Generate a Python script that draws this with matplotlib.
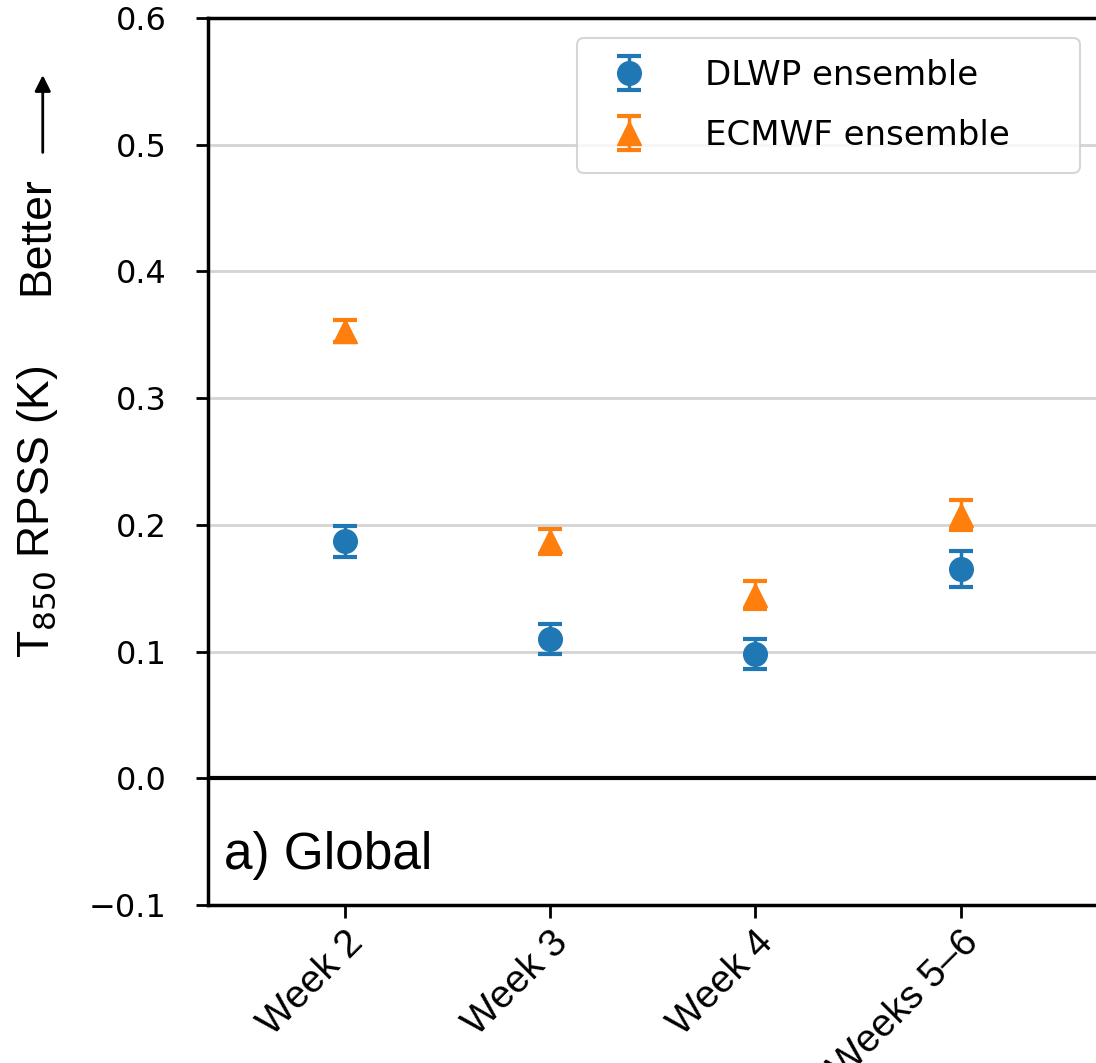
import matplotlib
matplotlib.use("Agg")
from matplotlib import pyplot as plt
from matplotlib.patches import FancyArrowPatch
import numpy as np

weeks = ["Week 2", "Week 3", "Week 4", "Weeks 5\u20136"]
dlwp_rpss = [0.187, 0.110, 0.098, 0.165]
dlwp_err = [0.012, 0.012, 0.012, 0.014]
ecmwf_rpss = [0.353, 0.187, 0.145, 0.208]
ecmwf_err = [0.009, 0.010, 0.011, 0.012]

blue = "#1f77b4"
orange = "#ff7f0e"

fig = plt.figure(figsize=(10.96, 10.63), dpi=100)
ax = fig.add_axes([0.19, 0.1486, 0.81, 0.8345])

x = np.arange(len(weeks))
ax.errorbar(x, dlwp_rpss, yerr=dlwp_err, fmt="o", color=blue, ms=17,
            capsize=8.5, capthick=3, elinewidth=2.5, label="DLWP ensemble", zorder=3)
ax.errorbar(x, ecmwf_rpss, yerr=ecmwf_err, fmt="^", color=orange, ms=17,
            capsize=8.5, capthick=3, elinewidth=2.5, label="ECMWF ensemble", zorder=3)

ax.set_xlim(-0.665, 3.66)
ax.set_ylim(-0.1, 0.6)
ax.set_yticks(np.arange(-0.1, 0.61, 0.1))
ax.set_yticklabels(["\u22120.1", "0.0", "0.1", "0.2", "0.3", "0.4", "0.5", "0.6"],
                   fontsize=23, family="DejaVu Sans")
ax.set_xticks(x)
ax.set_xticklabels(weeks, rotation=45, ha="right", va="top", rotation_mode="anchor",
                   fontsize=28, family="Liberation Sans")
ax.tick_params(axis="both", length=9, width=2)
ax.tick_params(axis="y", pad=21)
ax.tick_params(axis="x", pad=5)

for yg in [0.1, 0.2, 0.3, 0.4, 0.5]:
    ax.axhline(yg, color="#d4d4d4", lw=2, zorder=1)
ax.axhline(0.0, color="black", lw=3, zorder=2)

for side in ["left", "top", "bottom"]:
    ax.spines[side].set_linewidth(2.5)
ax.spines["right"].set_visible(False)

ax.text(0.018, 0.056, "a) Global", transform=ax.transAxes, fontsize=37,
        family="Liberation Sans", va="center", ha="left")

# legend box stretched to the width seen in the original
leg = ax.legend(loc="upper left", bbox_to_anchor=(0.4155, 0.80, 0.5664, 0.1775),
                mode="expand", borderaxespad=0,
                prop={"family": "DejaVu Sans", "size": 24.5}, frameon=True,
                fancybox=True, edgecolor="#cccccc", handletextpad=1.35,
                borderpad=0.62, labelspacing=0.78, handlelength=1.8)
leg.get_frame().set_linewidth(1.5)

fig.text(0.034, 0.519, r"T$_{850}$ RPSS (K)", rotation=90, fontsize=32,
         family="Liberation Sans", va="center", ha="center")
fig.text(0.034, 0.778, "Better", rotation=90, fontsize=32,
         family="Liberation Sans", va="center", ha="center")
fig.patches.append(FancyArrowPatch(
    (0.039, 0.854), (0.039, 0.932), transform=fig.transFigure,
    arrowstyle="-|>", mutation_scale=24, lw=2, color="black"))

fig.savefig("out.png", dpi=100)
